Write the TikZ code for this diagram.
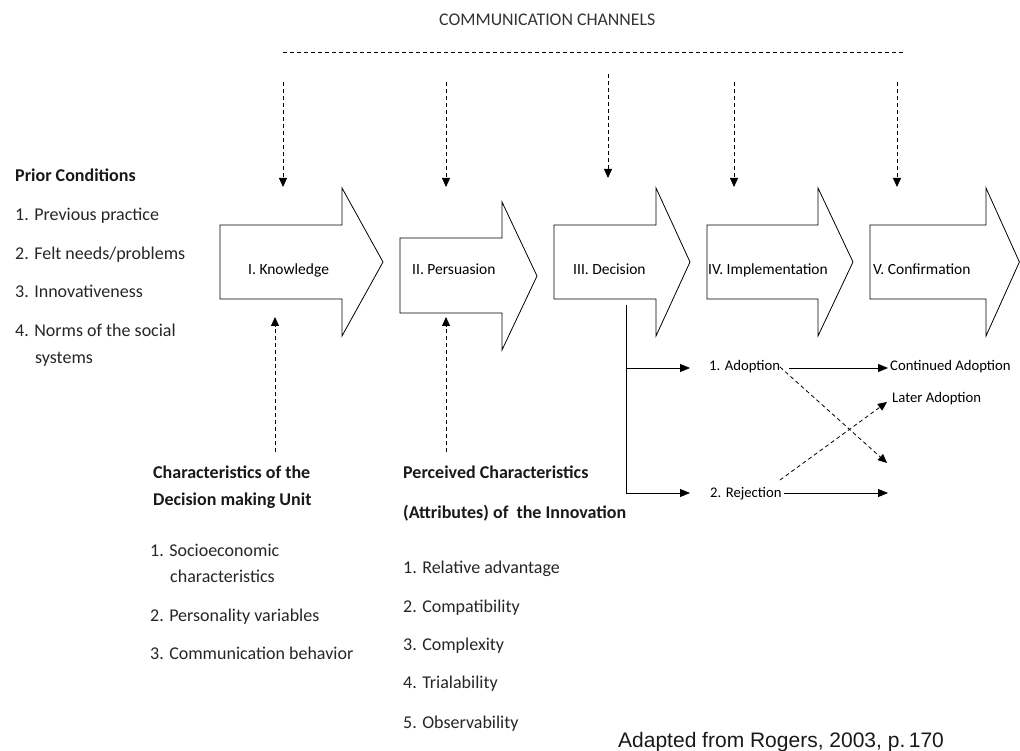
\documentclass[tikz,border=0pt]{standalone}
\usepackage{fontspec}
\setmainfont{Carlito}
\newfontfamily\arialf{Liberation Sans}
\usetikzlibrary{arrows.meta}
\begin{document}
\begin{tikzpicture}[x=1pt,y=-1pt,
  stage/.style={draw=black, line width=0.8pt, fill=white, line join=miter},
  lbl/.style={anchor=base west, inner sep=0pt, font=\fontsize{15.5}{18}\selectfont},
  item/.style={anchor=base west, inner sep=0pt, font=\fontsize{18}{21}\selectfont, text=black!85},
  itemhead/.style={anchor=base west, inner sep=0pt, font=\fontsize{18}{21}\selectfont\bfseries, text=black!90},
  outcome/.style={anchor=base west, inner sep=0pt, font=\fontsize{14.7}{17}\selectfont},
  dashline/.style={draw, line width=0.8pt, dash pattern=on 4pt off 3pt},
  dashar/.style={dashline, -{Triangle[width=8pt,length=9pt]}},
  solidar/.style={draw, line width=0.8pt, -{Triangle[width=8pt,length=10pt]}},
]
\useasboundingbox (0,0) rectangle (1020,751);

% title and communication channels line
\node[anchor=base west, inner sep=0pt, font=\fontsize{17.8}{20}\selectfont, text=black!80] (cc) at (439,26) {COMMUNICATION CHANNELS};
\coordinate (ccl) at (283,52);
\coordinate (ccr) at (905,52);
\draw[dashline] (ccl) -- (ccr);

% stage arrows
\draw[stage] (220,225) -- (342,225) -- (342,188) -- (383,262) -- (342,336) -- (342,299) -- (220,299) -- cycle;
\draw[stage] (400,238) -- (502,238) -- (502,202) -- (537,276) -- (502,350) -- (502,313) -- (400,313) -- cycle;
\draw[stage] (554,225) -- (656,225) -- (656,188) -- (690,262) -- (656,336) -- (656,299) -- (554,299) -- cycle;
\draw[stage] (707,225) -- (818,225) -- (818,188) -- (853,262) -- (818,336) -- (818,299) -- (707,299) -- cycle;
\draw[stage] (870,225) -- (986,225) -- (986,188) -- (1019.4,262) -- (986,336) -- (986,299) -- (870,299) -- cycle;

\node[lbl] (know) at (248,275) {I. Knowledge};
\node[lbl] (pers) at (412,275) {II. Persuasion};
\node[lbl] (deci) at (573,275) {III. Decision};
\node[lbl] (impl) at (708,275) {IV. Implementation};
\node[lbl] (conf) at (873,275) {V. Confirmation};

% communication channel arrows
\coordinate (c1s) at (283,82);  \coordinate (c1e) at (283,187);
\coordinate (c2s) at (446,82);  \coordinate (c2e) at (446,187);
\coordinate (c3s) at (608,74);  \coordinate (c3e) at (608,178);
\coordinate (c4s) at (734,82);  \coordinate (c4e) at (734,187);
\coordinate (c5s) at (897,82);  \coordinate (c5e) at (897,187);
\draw[dashar] (c1s) -- (c1e);
\draw[dashar] (c2s) -- (c2e);
\draw[dashar] (c3s) -- (c3e);
\draw[dashar] (c4s) -- (c4e);
\draw[dashar] (c5s) -- (c5e);

% prior conditions
\node[itemhead] (pc) at (15,182) {Prior Conditions};
\node[item] (pc1) at (15,221) {1. Previous practice};
\node[item] (pc2) at (15,260) {2. Felt needs/problems};
\node[item] (pc3) at (15,298) {3. Innovativeness};
\node[item] (pc4) at (15,337) {4. Norms of the social};
\node[item] (pc4b) at (35,363) {systems};

% decision making unit
\coordinate (u1s) at (275,452); \coordinate (u1e) at (275,317);
\draw[dashar] (u1s) -- (u1e);
\node[itemhead] (dmu) at (153,478) {Characteristics of the};
\node[itemhead] (dmu2) at (153,505) {Decision making Unit};
\node[item] (d1) at (150,556) {1. Socioeconomic};
\node[item] (d1b) at (170,582) {characteristics};
\node[item] (d2) at (150,621) {2. Personality variables};
\node[item] (d3) at (150,659) {3. Communication behavior};

% perceived characteristics
\coordinate (u2s) at (446,452); \coordinate (u2e) at (446,317);
\draw[dashar] (u2s) -- (u2e);
\node[itemhead] (pcx) at (403,478) {Perceived Characteristics};
\node[itemhead] (pcx2) at (403,518) {(Attributes) of \ the Innovation};
\node[item] (a1) at (403,573) {1. Relative advantage};
\node[item] (a2) at (403,612) {2. Compatibility};
\node[item] (a3) at (403,650) {3. Complexity};
\node[item] (a4) at (403,688) {4. Trialability};
\node[item] (a5) at (403,728) {5. Observability};

% decision outcomes
\coordinate (dv1) at (626,305);
\coordinate (dv2) at (626,493);
\coordinate (dh1) at (626,368);
\coordinate (dh1e) at (690,368);
\coordinate (dh2e) at (690,493);
\draw[line width=0.8pt] (dv1) -- (dv2);
\draw[solidar] (dh1) -- (dh1e);
\draw[solidar] (dv2) -- (dh2e);

\node[outcome] (adopt) at (709,370) {1. Adoption};
\node[outcome] (reject) at (710,497) {2. Rejection};
\node[outcome] (cont) at (890,370) {Continued Adoption};
\node[outcome] (later) at (892,402) {Later Adoption};

\coordinate (ad1) at (789,368); \coordinate (ad2) at (888,368);
\coordinate (rj1) at (784,493); \coordinate (rj2) at (888,493);
\draw[solidar] (ad1) -- (ad2);
\draw[solidar] (rj1) -- (rj2);
\coordinate (x1s) at (780,367); \coordinate (x1e) at (887,463);
\coordinate (x2s) at (780,480); \coordinate (x2e) at (887,402);
\draw[dashar] (x1s) -- (x1e);
\draw[dashar] (x2s) -- (x2e);

% source
\node[anchor=base west, inner sep=0pt, font=\arialf\fontsize{21}{24}\selectfont, text=black!90] (src) at (618,747) {Adapted from Rogers, 2003, p.\,170};
\end{tikzpicture}
\end{document}
